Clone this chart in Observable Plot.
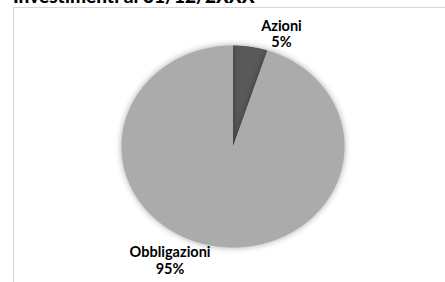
<!DOCTYPE html>
<html>
<head>
<meta charset="utf-8">
<script src="https://cdn.jsdelivr.net/npm/d3@7"></script>
<script src="https://cdn.jsdelivr.net/npm/@observablehq/plot@0.6"></script>
<style>
  html, body { margin: 0; padding: 0; background: #fff; overflow: hidden; }
  #wrap { position: relative; width: 445px; height: 282px; overflow: hidden; }
  #title { position: absolute; left: 13px; top: -14px; font: 900 19px Lato, "Open Sans", sans-serif; line-height: 19px; color: #000; white-space: nowrap; }
  #frame { position: absolute; left: 13px; top: 7px; width: 460px; height: 300px; border: 1px solid #d6d6d6; box-sizing: border-box; }
  #chart { position: absolute; left: 0; top: 0; }
  #chart g[aria-label="line"] path { filter: drop-shadow(0 0 3px rgba(0,0,0,0.35)); }
</style>
</head>
<body>
<div id="wrap">
  <div id="frame"></div>
  <div id="title">Investimenti al 31/12/2XXX</div>
  <div id="chart"></div>
</div>
<script>
const categories = ["Azioni", "Obbligazioni"];
const values = [5, 95];
const colors = ["#595959", "#ababab"];
const pctLabels = ["5%", "95%"];

const arcs = d3.pie().sort(null).value(d => d.value)(
  categories.map((c, i) => ({category: c, value: values[i], color: colors[i], pct: pctLabels[i]}))
);

// polygon points per slice (angles measured clockwise from top)
const pts = [];
for (const a of arcs) {
  const n = Math.max(4, Math.ceil((a.endAngle - a.startAngle) / 0.01));
  pts.push({category: a.data.category, x: 0, y: 0});
  for (let k = 0; k <= n; k++) {
    const t = a.startAngle + (a.endAngle - a.startAngle) * k / n;
    pts.push({category: a.data.category, x: Math.sin(t), y: Math.cos(t)});
  }
  pts.push({category: a.data.category, x: 0, y: 0});
}

const labels = arcs.map(a => {
  const m = (a.startAngle + a.endAngle) / 2;
  return {category: a.data.category, x: Math.sin(m), y: Math.cos(m), text: a.data.category + "\n" + a.data.pct};
});

const chart = Plot.plot({
  width: 445,
  height: 282,
  margin: 0,
  x: {domain: [-1, 1], range: [121, 344], axis: null},
  y: {domain: [-1, 1], range: [247, 45], axis: null},
  color: {domain: categories, range: colors},
  style: {background: "transparent", overflow: "visible"},
  marks: [
    Plot.line(pts, {x: "x", y: "y", z: "category", fill: "category", stroke: "none", curve: "linear"}),
    Plot.text(labels.filter(d => d.category === "Azioni"), {
      x: "x", y: "y", text: "text", textAnchor: "middle", lineAnchor: "middle",
      dx: 31, dy: -13, lineHeight: 1.15,
      fontSize: 14.5, fontWeight: "bold", fontFamily: "Lato, 'Open Sans', sans-serif", fill: "#000"
    }),
    Plot.text(labels.filter(d => d.category === "Obbligazioni"), {
      x: "x", y: "y", text: "text", textAnchor: "middle", lineAnchor: "middle",
      dx: -45.5, dy: 14, lineHeight: 1.15,
      fontSize: 14.5, fontWeight: "bold", fontFamily: "Lato, 'Open Sans', sans-serif", fill: "#000"
    })
  ]
});
document.getElementById("chart").appendChild(chart);
</script>
</body>
</html>
